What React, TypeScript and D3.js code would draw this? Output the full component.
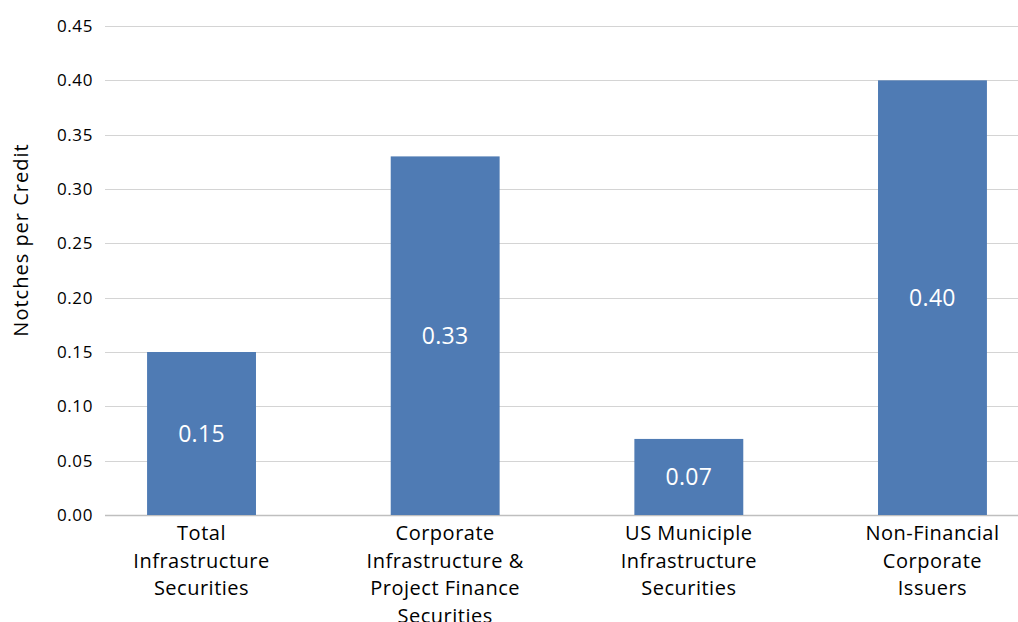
import React from "react";
import * as d3 from "d3";

const categories: string[][] = [
  ["Total", "Infrastructure", "Securities"],
  ["Corporate", "Infrastructure &", "Project Finance", "Securities"],
  ["US Municiple", "Infrastructure", "Securities"],
  ["Non-Financial", "Corporate", "Issuers"],
];
const values: number[] = [0.15, 0.33, 0.07, 0.4];
const yTicks: number[] = [0, 0.05, 0.1, 0.15, 0.2, 0.25, 0.3, 0.35, 0.4, 0.45];
const yTitle = "Notches per Credit";

const W = 1018;
const H = 622;
const FONT = "'Open Sans', Lato, 'DejaVu Sans', sans-serif";

export default function App() {
  const y = d3.scaleLinear().domain([0, 0.45]).range([515, 26]);
  const x = d3
    .scaleBand<number>()
    .domain(values.map((_, i) => i))
    .range([79.7, 1054.3])
    .paddingInner(0.553)
    .paddingOuter(0.2765);
  const gridLeft = 105;
  const fmt = d3.format(".2f");

  return (
    <svg
      width={W}
      height={H}
      style={{ position: "absolute", left: 0, top: 0, background: "#fff" }}
      fontFamily={FONT}
    >
      {yTicks.map((t) => (
        <g key={t}>
          <line
            x1={gridLeft}
            x2={W}
            y1={Math.round(y(t)) + 0.5}
            y2={Math.round(y(t)) + 0.5}
            stroke={t === 0 ? "#bfbfbf" : "#d4d4d4"}
            strokeWidth={t === 0 ? 1.5 : 1}
          />
          <text
            x={93}
            y={y(t)}
            dy="0.35em"
            textAnchor="end"
            fontSize={17}
            letterSpacing={0.6}
            fill="#000"
          >
            {fmt(t)}
          </text>
        </g>
      ))}
      {values.map((v, i) => {
        const bx = x(i)!;
        const bw = x.bandwidth();
        return (
          <g key={i}>
            <rect x={bx} y={y(v)} width={bw} height={y(0) - y(v)} fill="#4F7BB4" />
            <text
              x={bx + bw / 2}
              y={(y(v) + y(0)) / 2}
              dy="0.35em"
              textAnchor="middle"
              fontSize={23}
              letterSpacing={0.3}
              fill="#fff"
            >
              {fmt(v)}
            </text>
            {categories[i].map((line, j) => (
              <text
                key={j}
                x={bx + bw / 2}
                y={533 + j * 27.5}
                dy="0.35em"
                textAnchor="middle"
                fontSize={20}
                letterSpacing={0.5}
                fill="#000"
              >
                {line}
              </text>
            ))}
          </g>
        );
      })}
      <text
        transform={`translate(21, 240) rotate(-90)`}
        dy="0.35em"
        textAnchor="middle"
        fontSize={20}
        letterSpacing={1}
        fill="#000"
      >
        {yTitle}
      </text>
    </svg>
  );
}
